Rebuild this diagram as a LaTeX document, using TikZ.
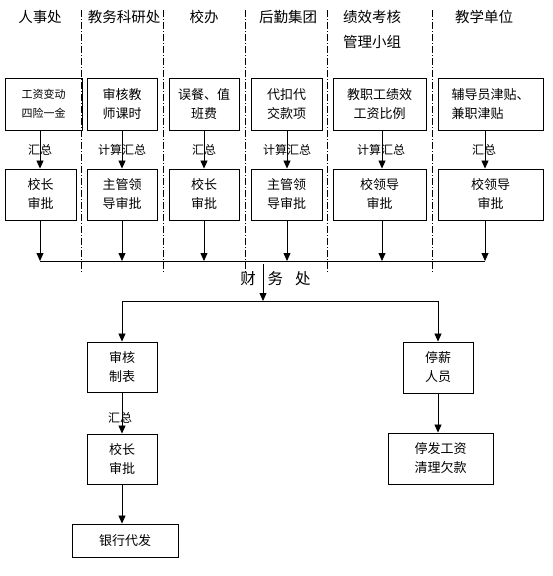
\documentclass[tikz,border=0pt]{standalone}
\usepackage{fontspec}
\newfontfamily\cjk{Noto Sans CJK SC}
\usetikzlibrary{arrows.meta}
\begin{document}
\begin{tikzpicture}[x=1pt,y=-1pt,
  box/.style={draw, line width=0.9pt, align=center, inner sep=0pt, font=\cjk\fontsize{13}{19}\selectfont},
  arr/.style={line width=0.8pt, -{Triangle[width=7pt,length=8pt]}},
  ln/.style={line width=0.8pt},
  sep/.style={line width=0.7pt, dash pattern=on 7pt off 2pt on 1pt off 2pt},
  hdr/.style={font=\cjk\fontsize{14.5}{25}\selectfont, inner sep=0pt},
  lbl/.style={font=\cjk\fontsize{12}{14}\selectfont, inner sep=0pt}]
\useasboundingbox (0,0) rectangle (553,576);
% separators
\foreach \sx in {81,163,245,327,432} \draw[sep] (\sx,10) -- (\sx,272);
% headers
\node[hdr] (h1) at (40,17) {人事处};
\node[hdr] (h2) at (124,17) {教务科研处};
\node[hdr] (h3) at (204,17) {校办};
\node[hdr] (h4) at (288,17) {后勤集团};
\node[hdr, anchor=west] (h5) at (343,17) {绩效考核};
\node[hdr, anchor=west] (h5b) at (343,42) {管理小组};
\node[hdr] (h6) at (484,17) {教学单位};
% arrow columns
\coordinate (ax1) at (40,0);
\coordinate (ax2) at (122,0);
\coordinate (ax3) at (204,0);
\coordinate (ax4) at (287,0);
\coordinate (ax5) at (382,0);
\coordinate (ax6) at (485,0);
% row 1
\node[box, minimum width=77, minimum height=52, font=\cjk\fontsize{11}{19}\selectfont] (b1) at (43.5,104) {工资变动\\四险一金};
\node[box, minimum width=70, minimum height=52] (b2) at (122,104) {审核教\\师课时};
\node[box, minimum width=70, minimum height=52] (b3) at (204,104) {误餐、值\\班费};
\node[box, minimum width=71, minimum height=52] (b4) at (286.5,104) {代扣代\\交款项};
\node[box, minimum width=93, minimum height=52] (b5) at (379.5,104) {教职工绩效\\工资比例};
\node[box, minimum width=105, minimum height=52, align=left] (b6) at (490.5,104) {辅导员津贴、\\兼职津贴};
% row 2
\node[box, minimum width=71, minimum height=51] (c1) at (40.5,194.5) {校长\\审批};
\node[box, minimum width=70, minimum height=51] (c2) at (122,194.5) {主管领\\导审批};
\node[box, minimum width=70, minimum height=51] (c3) at (204,194.5) {校长\\审批};
\node[box, minimum width=71, minimum height=51] (c4) at (286.5,194.5) {主管领\\导审批};
\node[box, minimum width=93, minimum height=51] (c5) at (379.5,194.5) {校领导\\审批};
\node[box, minimum width=105, minimum height=51] (c6) at (490.5,194.5) {校领导\\审批};
% row1 -> row2 arrows
\foreach \i in {1,...,6} \draw[arr] (ax\i |- b\i.south) -- (ax\i |- c\i.north);
% labels
\node[lbl] (l1) at (40,150) {汇总};
\node[lbl] (l2) at (122,150) {计算汇总};
\node[lbl] (l3) at (204,150) {汇总};
\node[lbl] (l4) at (287,150) {计算汇总};
\node[lbl] (l5) at (381,150) {计算汇总};
\node[lbl] (l6) at (484,150) {汇总};
% collecting bar
\coordinate (barY) at (0,261);
\draw[ln] (ax1 |- barY) -- (ax6 |- barY);
\foreach \i in {1,...,6} \draw[arr] (ax\i |- c\i.south) -- (ax\i |- barY);
% finance
\node[font=\cjk\fontsize{15.5}{18}\selectfont, inner sep=0pt] (cw) at (275.5,279) {财\hspace{12pt}务\hspace{12pt}处};
\coordinate (finA) at (263,264);
\coordinate (finB) at (263,301);
\draw[arr] (finA) -- (finB);
\coordinate (bar2L) at (122,301);
\coordinate (bar2R) at (438,301);
\draw[ln] (bar2L) -- (bar2R);
% bottom left
\node[box, minimum width=70, minimum height=50] (d1) at (122,367) {审核\\制表};
\node[box, minimum width=70, minimum height=50] (d2) at (122,459) {校长\\审批};
\node[box, minimum width=106, minimum height=33] (d3) at (125,540.5) {银行代发};
\draw[arr] (bar2L) -- (d1.north);
\draw[arr] (d1.south) -- (d2.north);
\node[lbl] (l7) at (120,418) {汇总};
\draw[arr] (d2.south) -- (d2.south |- d3.north);
% bottom right
\node[box, minimum width=70, minimum height=51] (e1) at (438,367.5) {停薪\\人员};
\node[box, minimum width=105, minimum height=51] (e2) at (440.5,458.5) {停发工资\\清理欠款};
\draw[arr] (bar2R) -- (e1.north);
\draw[arr] (e1.south) -- (e1.south |- e2.north);
\end{tikzpicture}
\end{document}
